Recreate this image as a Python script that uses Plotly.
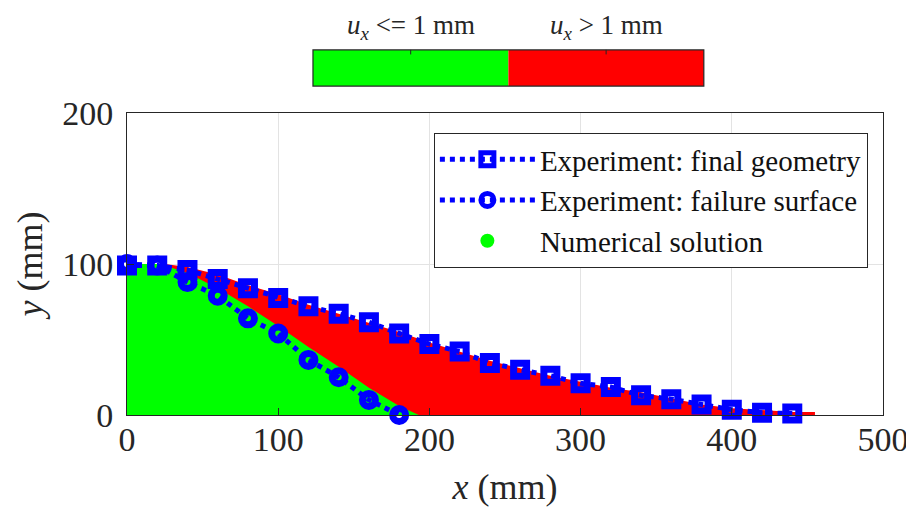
import plotly.graph_objects as go

# Experiment: final geometry (mm)
final_x = [0, 20, 40, 60, 80, 100, 120, 140, 160, 180, 200, 220, 240, 260, 280, 300, 320, 340, 360, 380, 400, 420, 440]
final_y = [99, 99, 96, 90, 84, 77.5, 72, 67, 61.5, 54, 47, 42, 34.5, 30, 26, 21, 18.5, 13, 10.5, 7, 3.5, 1.5, 1]

# Experiment: failure surface (mm)
fail_x = [0, 20, 40, 60, 80, 100, 120, 140, 160, 180]
fail_y = [100, 99, 88, 79, 64, 54, 36.5, 25, 10, 0]

# Numerical solution: outline of region with u_x > 1 mm (red) and u_x <= 1 mm (green)
red_x = [0, 0, 25, 40, 60, 80, 100, 120, 140, 160, 180, 200, 220, 240, 260, 280, 300, 320, 340, 360, 380, 400, 420, 440, 455, 455]
red_y = [0, 100, 100, 98, 93, 86, 80, 73, 67, 61, 55, 48, 42, 36, 31, 26, 22, 18, 15, 11, 7, 4.5, 3, 2, 2, 0]
green_x = [0, 0, 22, 40, 60, 80, 100, 120, 140, 160, 180, 193]
green_y = [0, 100, 100, 94, 84, 72, 59, 45, 32, 18, 6, 0]

# Colour bar labels
cbar_labels = ["<i>u</i><sub><i>x</i></sub> <= 1 mm", "<i>u</i><sub><i>x</i></sub> > 1 mm"]
cbar_colors = ["#00FF00", "#FF0000"]

FONT = "Liberation Serif"
BLUE = "#0000FF"
DARK = "#262626"

fig = go.Figure()

fig.add_trace(go.Scatter(x=red_x, y=red_y, fill="toself", fillcolor="#FF0000",
                         mode="lines", line=dict(width=0, color="#FF0000"),
                         showlegend=False, hoverinfo="skip"))
fig.add_trace(go.Scatter(x=green_x, y=green_y, fill="toself", fillcolor="#00FF00",
                         mode="lines", line=dict(width=0, color="#00FF00"),
                         showlegend=False, hoverinfo="skip"))

fig.add_trace(go.Scatter(x=final_x, y=final_y, mode="lines+markers",
                         name="Experiment: final geometry",
                         line=dict(color=BLUE, width=5, dash="dot"),
                         marker=dict(symbol="square-open", size=13, color=BLUE,
                                     line=dict(width=7, color=BLUE)),
                         cliponaxis=False))
fig.add_trace(go.Scatter(x=fail_x, y=fail_y, mode="lines+markers",
                         name="Experiment: failure surface",
                         line=dict(color=BLUE, width=5, dash="dot"),
                         marker=dict(symbol="circle-open", size=13, color=BLUE,
                                     line=dict(width=7, color=BLUE)),
                         cliponaxis=False))
fig.add_trace(go.Scatter(x=[None], y=[None], mode="markers",
                         name="Numerical solution",
                         marker=dict(symbol="circle", size=14, color="#00FF00")))

# colour bar (drawn as shapes above the axes)
x0, x1 = 0.246, 0.763
y0, y1 = 1.089, 1.209
xm = (x0 + x1) / 2
fig.add_shape(type="rect", xref="paper", yref="paper", x0=x0, x1=xm, y0=y0, y1=y1,
              fillcolor=cbar_colors[0], line=dict(width=0))
fig.add_shape(type="rect", xref="paper", yref="paper", x0=xm, x1=x1, y0=y0, y1=y1,
              fillcolor=cbar_colors[1], line=dict(width=0))
fig.add_shape(type="rect", xref="paper", yref="paper", x0=x0, x1=x1, y0=y0, y1=y1,
              fillcolor="rgba(0,0,0,0)", line=dict(width=1.2, color=DARK))
for i, lab in enumerate(cbar_labels):
    xc = x0 + (x1 - x0) * (0.25 + 0.5 * i)
    fig.add_shape(type="line", xref="paper", yref="paper", x0=xc, x1=xc, y0=y1, y1=y1 - 0.015,
                  line=dict(width=1, color=DARK))
    fig.add_annotation(x=xc, y=1.285, xref="paper", yref="paper", text=lab,
                       showarrow=False, font=dict(family=FONT, size=27, color=DARK),
                       xanchor="center", yanchor="middle")

axis_common = dict(showline=True, mirror=True, linecolor=DARK, linewidth=1,
                   ticks="inside", ticklen=7, tickcolor=DARK, automargin=False,
                   showgrid=True, gridcolor="#e3e3e3", gridwidth=1, zeroline=False,
                   tickfont=dict(family=FONT, size=34, color=DARK))

# the page body adds an 8px offset; margins compensate so the axes land where intended
fig.update_layout(
    width=914, height=517,
    margin=dict(l=119, r=39, t=105, b=110),
    paper_bgcolor="white", plot_bgcolor="white",
    font=dict(family=FONT, color=DARK),
    xaxis=dict(range=[0, 500], tickvals=[0, 100, 200, 300, 400, 500],
               title=dict(text="<i>x</i> (mm)", font=dict(family=FONT, size=36), standoff=17),
               ticklabelstandoff=-6, **axis_common),
    yaxis=dict(range=[0, 200], tickvals=[0, 100, 200],
               title=dict(text="<i>y</i> (mm)", font=dict(family=FONT, size=36), standoff=8),
               ticklabelstandoff=6, **axis_common),
    legend=dict(x=0.98, y=0.934, xanchor="right", yanchor="top",
                bgcolor="white", bordercolor=DARK, borderwidth=1,
                font=dict(family=FONT, size=29, color="#111111"),
                itemwidth=95, tracegroupgap=0),
    showlegend=True,
)

fig.write_html("out.html")
